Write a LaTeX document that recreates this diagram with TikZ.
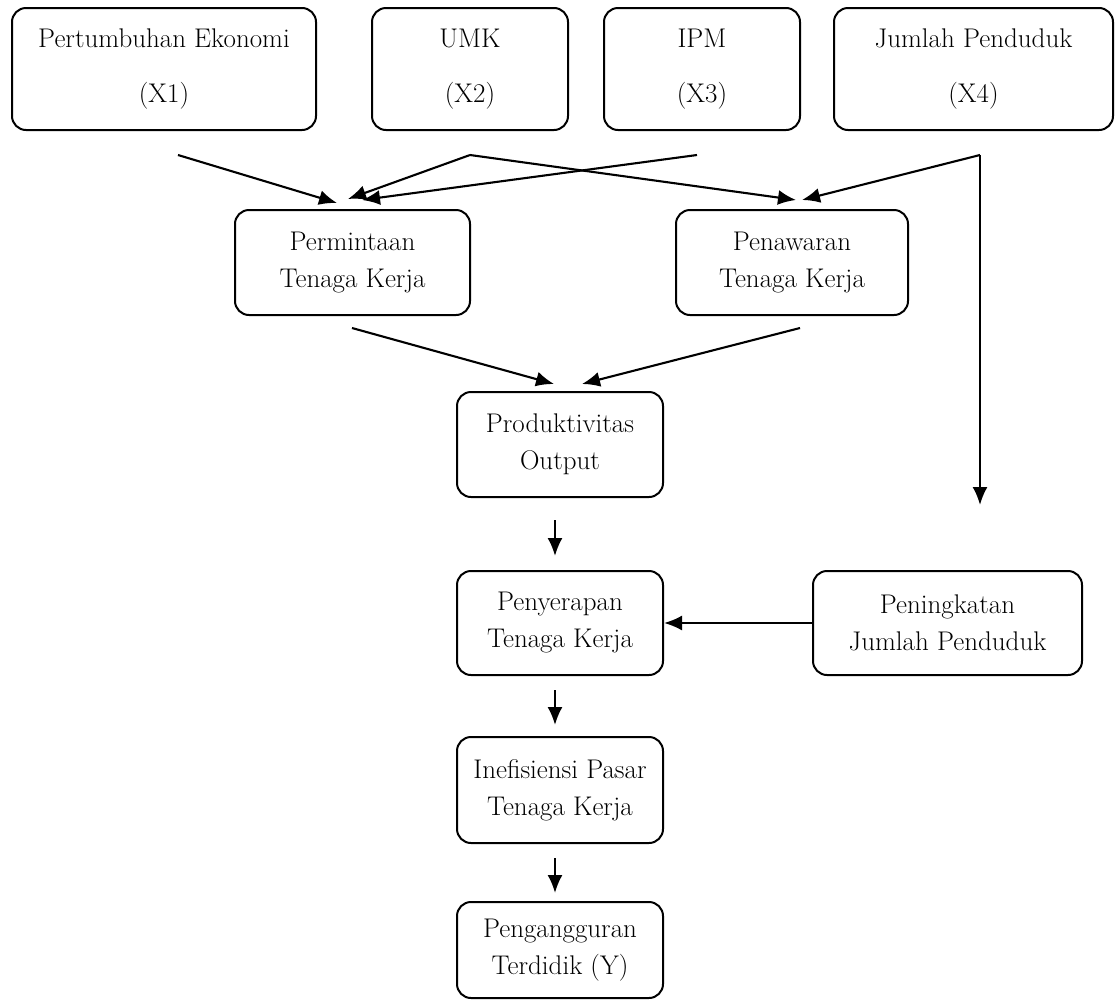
\documentclass[tikz,border=0pt]{standalone}
\usetikzlibrary{arrows.meta}
\begin{document}
\begin{tikzpicture}[x=1pt,y=-1pt,
  box/.style={draw,line width=2pt,rounded corners=14pt,inner sep=0pt,align=center,
    font=\fontsize{27}{37}\selectfont},
  topbox/.style={box,font=\fontsize{27}{55}\selectfont},
  arr/.style={line width=2.1pt,-{Latex[length=18pt,width=15pt]}},
  ln/.style={line width=2.1pt}]
\useasboundingbox (0,0) rectangle (1117,1002);
% top boxes
\node[topbox,minimum width=304pt,minimum height=122pt] (x1) at (164,69) {Pertumbuhan Ekonomi\\(X1)};
\node[topbox,minimum width=196pt,minimum height=122pt] (x2) at (470,69) {UMK\\(X2)};
\node[topbox,minimum width=196pt,minimum height=122pt] (x3) at (702,69) {IPM\\(X3)};
\node[topbox,minimum width=279pt,minimum height=122pt] (x4) at (973.5,69) {Jumlah Penduduk\\(X4)};
% middle
\node[box,minimum width=235pt,minimum height=105pt] (perm) at (352.5,262.5) {Permintaan\\Tenaga Kerja};
\node[box,minimum width=232pt,minimum height=105pt] (pen) at (792,262.5) {Penawaran\\Tenaga Kerja};
\node[box,minimum width=206pt,minimum height=105pt] (prod) at (560,444.5) {Produktivitas\\Output};
\node[box,minimum width=206pt,minimum height=104pt] (peny) at (560,623) {Penyerapan\\Tenaga Kerja};
\node[box,minimum width=269pt,minimum height=104pt] (pening) at (947.5,623) {Peningkatan\\Jumlah Penduduk};
\node[box,minimum width=206pt,minimum height=106pt] (inef) at (560,790) {Inefisiensi Pasar\\Tenaga Kerja};
\node[box,minimum width=206pt,minimum height=96pt] (peng) at (560,950) {Pengangguran\\Terdidik (Y)};
% free ends
\coordinate (s1) at (178,155);
\coordinate (s2) at (470,155);
\coordinate (s3) at (697,155);
\coordinate (s4) at (980,155);
\coordinate (t1) at (337,203);
\coordinate (t2) at (348,199);
\coordinate (t3) at (362,200);
\coordinate (t4) at (796,200);
\coordinate (t5) at (802,200);
\coordinate (e4) at (980,505);
\coordinate (sp) at (352,328);
\coordinate (sq) at (800,328);
\coordinate (tp) at (554,384);
\coordinate (tq) at (582,384);
\coordinate (a1) at (555,520);
\coordinate (b1) at (555,556);
\coordinate (a2) at (555,690);
\coordinate (b2) at (555,725);
\coordinate (a3) at (555,858);
\coordinate (b3) at (555,893);
\draw[arr] (s1) -- (t1);
\draw[arr] (s2) -- (t2);
\draw[arr] (s3) -- (t3);
\draw[arr] (s2) -- (t4);
\draw[arr] (s4) -- (t5);
\draw[arr] (s4) -- (e4);
\draw[arr] (sp) -- (tp);
\draw[arr] (sq) -- (tq);
\draw[arr] (a1) -- (b1);
\draw[arr] (a2) -- (b2);
\draw[arr] (a3) -- (b3);
\draw[arr] (pening.west) -- (peny.east);
\end{tikzpicture}
\end{document}
